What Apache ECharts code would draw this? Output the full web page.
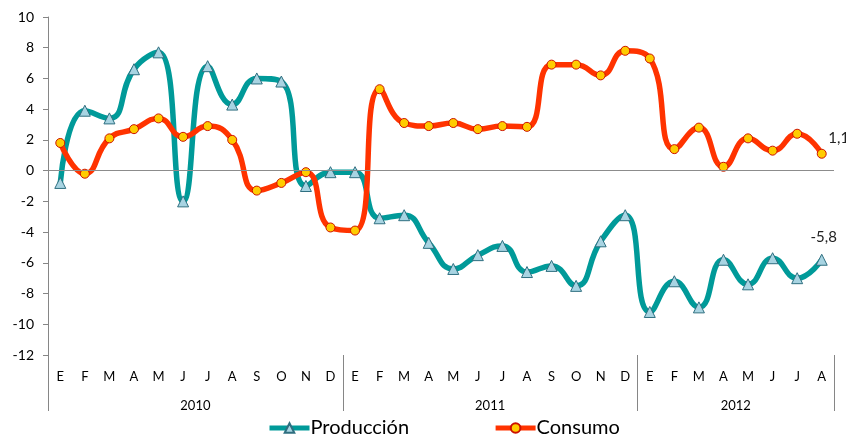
<!DOCTYPE html>
<html>
<head>
<meta charset="utf-8">
<script src="https://cdn.jsdelivr.net/npm/echarts@6/dist/echarts.min.js"></script>
<style>
  html, body { margin: 0; padding: 0; background: #fff; }
  #grafico { width: 846px; height: 440px; }
</style>
</head>
<body>
<div id="grafico"></div>
<script>
// meses (E=enero ... D=diciembre), 2010 - ago 2012
var meses = ['E','F','M','A','M','J','J','A','S','O','N','D',
             'E','F','M','A','M','J','J','A','S','O','N','D',
             'E','F','M','A','M','J','J','A'];
var anios = ['2010', '2011', '2012'];
var centroAnio = [6, 18, 28];      // posicion del texto del año
var limitesAnio = [0, 12, 24, 32]; // separadores verticales

var produccion = [-0.8, 3.9, 3.4, 6.6, 7.7, -2.0, 6.8, 4.3, 6.0, 5.8, -1.0, -0.1,
                  -0.1, -3.1, -2.9, -4.7, -6.4, -5.5, -4.9, -6.6, -6.2, -7.5, -4.6, -2.9,
                  -9.2, -7.2, -8.9, -5.8, -7.4, -5.7, -7.0, -5.8];
var consumo = [1.8, -0.2, 2.1, 2.7, 3.4, 2.2, 2.9, 2.0, -1.3, -0.8, -0.1, -3.7,
               -3.9, 5.3, 3.1, 2.9, 3.1, 2.7, 2.9, 2.85, 6.9, 6.9, 6.2, 7.8,
               7.3, 1.4, 2.8, 0.25, 2.1, 1.3, 2.4, 1.1];

var fuente = 'Lato';

// solo el ultimo punto lleva etiqueta
function conEtiqueta(arr, offset) {
  return arr.map(function (v, i) {
    if (i < arr.length - 1) return v;
    return {
      value: v,
      label: {
        show: true, position: 'top', offset: offset,
        fontFamily: fuente, fontSize: 15, color: '#222',
        formatter: function (p) { return String(p.value).replace('.', ','); }
      }
    };
  });
}

var myChart = echarts.init(document.getElementById('grafico'));

var option = {
  animation: false,
  backgroundColor: '#fff',
  textStyle: { fontFamily: fuente },
  grid: { left: 48, right: 12, top: 17, bottom: 85 },
  legend: {
    left: 262, bottom: -3,
    itemWidth: 40, itemHeight: 12, itemGap: 84,
    lineStyle: { width: 5 },
    textStyle: { fontFamily: fuente, fontSize: 20, color: '#000', padding: [0, 0, 0, -4] },
    data: ['Producción', 'Consumo']
  },
  xAxis: [
    {
      type: 'category',
      data: meses,
      position: 'bottom',
      axisLine: { show: false },
      axisTick: { show: false },
      axisLabel: { fontFamily: fuente, fontSize: 13, color: '#000', margin: 15, interval: 0 }
    },
    {
      type: 'value',
      min: 0, max: 32,
      position: 'bottom',
      axisLine: { show: false },
      splitLine: { show: false },
      axisTick: {
        show: true, length: 56, customValues: limitesAnio,
        lineStyle: { color: '#868686', width: 1 }
      },
      axisLabel: {
        fontFamily: fuente, fontSize: 13, color: '#000', margin: 44,
        customValues: centroAnio,
        formatter: function (v) { return anios[centroAnio.indexOf(v)] || ''; }
      }
    }
  ],
  yAxis: {
    type: 'value',
    min: -12, max: 10, interval: 2,
    axisLine: { show: true, lineStyle: { color: '#868686' } },
    axisTick: { show: true, length: 5, lineStyle: { color: '#868686' } },
    splitLine: { show: false },
    axisLabel: { fontFamily: fuente, fontSize: 14, color: '#000', margin: 14 }
  },
  series: [
    {
      name: 'Producción',
      type: 'line',
      xAxisIndex: 0,
      smooth: 0.5,
      data: conEtiqueta(produccion, [2, -4]),
      symbol: 'triangle',
      symbolSize: 11,
      lineStyle: { color: '#009a99', width: 5.5 },
      itemStyle: { color: '#a8d4e2', borderColor: '#2f6f80', borderWidth: 1 },
      markLine: {
        silent: true, symbol: 'none', label: { show: false },
        lineStyle: { color: '#8c8c8c', width: 1, type: 'solid' },
        data: [{ yAxis: 0 }]
      },
      z: 3
    },
    {
      name: 'Consumo',
      type: 'line',
      xAxisIndex: 0,
      smooth: 0.5,
      data: conEtiqueta(consumo, [17, 2]),
      symbol: 'circle',
      symbolSize: 9,
      lineStyle: { color: '#ff3300', width: 5.5 },
      itemStyle: { color: '#ffcc00', borderColor: '#cc1100', borderWidth: 1 },
      z: 4
    }
  ]
};

myChart.setOption(option);
</script>
</body>
</html>
